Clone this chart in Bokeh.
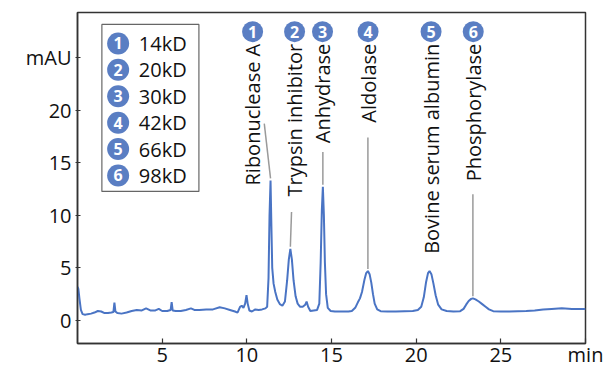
import math

from bokeh.core.properties import value
from bokeh.embed import file_html
from bokeh.models import FixedTicker, Range1d
from bokeh.plotting import figure
from bokeh.resources import INLINE

# --- chromatogram trace: retention time (min) vs absorbance (mAU) ---
time_min = [
    0.00, 0.05, 0.12, 0.20, 0.30, 0.45, 0.60, 0.80, 1.00, 1.20, 1.40, 1.60,
    1.80, 2.00, 2.12, 2.18, 2.24, 2.35, 2.60, 2.90, 3.20, 3.50, 3.80, 4.05,
    4.30, 4.60, 4.80, 5.00, 5.30, 5.50, 5.56, 5.62, 5.80, 6.10, 6.40, 6.70,
    6.90, 7.20, 7.60, 8.00, 8.40, 8.70, 9.00, 9.30, 9.45, 9.60, 9.70, 9.80,
    9.90, 9.98, 10.05, 10.15, 10.30, 10.50, 10.70, 10.90, 11.10, 11.20,
    11.28, 11.34, 11.40, 11.45, 11.50, 11.58, 11.68, 11.80, 11.95, 12.10,
    12.25, 12.38, 12.48, 12.57, 12.66, 12.76, 12.88, 13.00, 13.15, 13.30,
    13.45, 13.53, 13.62, 13.75, 13.95, 14.15, 14.28, 14.36, 14.43, 14.49,
    14.55, 14.61, 14.68, 14.78, 14.95, 15.20, 15.60, 16.00, 16.20, 16.40,
    16.55, 16.68, 16.80, 16.95, 17.05, 17.15, 17.25, 17.35, 17.45, 17.55,
    17.70, 17.90, 18.30, 18.80, 19.30, 19.80, 20.10, 20.30, 20.45, 20.58,
    20.70, 20.79, 20.90, 21.02, 21.15, 21.30, 21.50, 21.80, 22.20, 22.60,
    22.80, 22.95, 23.10, 23.25, 23.35, 23.50, 23.70, 23.90, 24.10, 24.30,
    24.55, 25.00, 25.50, 26.00, 26.50, 27.00, 27.50, 28.00, 28.60, 29.20,
    29.60, 30.00,
]
absorbance_mau = [
    3.20, 3.00, 2.00, 1.00, 0.60, 0.55, 0.60, 0.65, 0.75, 0.90, 0.85, 0.70,
    0.70, 0.75, 0.80, 1.70, 0.85, 0.70, 0.65, 0.75, 0.90, 1.00, 0.95, 1.15,
    0.95, 0.95, 1.10, 0.90, 0.90, 1.00, 1.75, 0.95, 0.90, 0.90, 1.00, 1.15,
    1.00, 1.00, 1.05, 1.05, 1.25, 1.15, 1.00, 0.85, 0.75, 1.30, 1.40, 1.20,
    1.60, 2.40, 1.60, 0.95, 0.85, 1.05, 1.00, 1.05, 1.15, 1.30,
    4.00, 10.00, 13.30, 9.00, 5.00, 3.50, 2.70, 2.00, 1.55, 1.40,
    1.80, 3.80, 5.80, 6.80, 5.80, 3.80, 2.30, 1.60, 1.30, 1.30,
    1.50, 1.80, 1.30, 0.90, 0.95, 1.00, 1.60, 5.50, 10.50, 12.70,
    10.00, 5.50, 2.50, 1.20, 0.90, 0.85, 0.85, 0.85, 0.90, 1.20,
    1.70, 2.10, 2.70, 3.90, 4.50, 4.70, 4.40, 3.60, 2.50, 1.60,
    1.05, 0.88, 0.85, 0.85, 0.88, 0.90, 1.00, 1.30, 2.20, 3.60,
    4.50, 4.70, 4.40, 3.50, 2.40, 1.50, 1.05, 0.90, 0.85, 0.88,
    1.10, 1.50, 1.85, 2.05, 2.10, 2.00, 1.80, 1.55, 1.30, 1.05,
    0.88, 0.85, 0.86, 0.88, 0.90, 0.95, 1.05, 1.10, 1.15, 1.10,
    1.10, 1.10,
]

# --- calibration standards ---
protein_names = ["Ribonuclease A", "Trypsin inhibitor", "Anhydrase",
                 "Aldolase", "Bovine serum albumin", "Phosphorylase"]
protein_kd = [14, 20, 30, 42, 66, 98]
peak_time = [11.40, 12.57, 14.49, 17.15, 20.79, 23.35]
peak_height = [13.3, 6.8, 12.7, 4.7, 4.7, 2.1]

# --- axis ticks ---
x_ticks = [5, 10, 15, 20, 25, 30]
x_tick_labels = ["5", "10", "15", "20", "25", "min"]
y_ticks = [0, 5, 10, 15, 20, 25]
y_tick_labels = ["0", "5", "10", "15", "20", "mAU"]

# --- annotation layout (data units) ---
label_x = [10.34, 12.82, 14.47, 17.16, 20.88, 23.37]
label_top = 26.3
badge_y = 27.45
leader_top_x = [11.03, 12.64, 14.49, 17.15, None, 23.35]
leader_top_y = [18.7, 10.3, 16.0, 17.4, None, 12.0]
legend_left, legend_right = 1.44, 7.17
legend_top, legend_bottom = 28.14, 12.26
legend_badge_x, legend_text_x = 2.40, 3.62
legend_first_row, legend_row_step = 26.33, 2.51

LINE_BLUE = "#4a74c4"
BADGE_BLUE = "#5a7ec3"
INK = "#111111"
FONT = "Open Sans"

p = figure(width=604, height=370, output_backend="svg", toolbar_location=None,
           x_range=Range1d(0, 30), y_range=Range1d(-2.19, 29.27),
           min_border_left=77, min_border_right=19, min_border_top=12,
           min_border_bottom=27)
p.grid.visible = False
p.outline_line_color = "#333333"
p.outline_line_width = 1.5
p.background_fill_color = "white"

for ax, ticks, labels in ((p.xaxis[0], x_ticks, x_tick_labels),
                          (p.yaxis[0], y_ticks, y_tick_labels)):
    ax.ticker = FixedTicker(ticks=ticks)
    ax.major_label_overrides = {t: s for t, s in zip(ticks, labels)}
    ax.minor_tick_line_color = None
    ax.axis_line_color = "#333333"
    ax.axis_line_width = 1.5
    ax.major_tick_line_color = "#333333"
    ax.major_tick_line_width = 1.2
    ax.major_label_text_font = FONT
    ax.major_label_text_font_size = "20px"
    ax.major_label_text_color = INK
p.xaxis.major_tick_in = 5
p.xaxis.major_tick_out = 0
p.xaxis.major_label_standoff = -3
p.yaxis.major_tick_in = 3
p.yaxis.major_tick_out = 2
p.yaxis.major_label_standoff = 4

# trace
p.line(time_min, absorbance_mau, line_color=LINE_BLUE, line_width=2)

# leader lines from the peak apex up to the rotated name
for i in range(len(peak_time)):
    if leader_top_x[i] is None:
        continue
    p.line([leader_top_x[i], peak_time[i]], [leader_top_y[i], peak_height[i] + 0.2],
           line_color="#9a9a9a", line_width=1.5)

# rotated protein names
p.text(x=label_x, y=[label_top] * len(label_x), text=protein_names,
       angle=math.pi / 2, text_align="right", text_baseline="middle",
       text_font=value(FONT), text_font_size="20px", text_color=INK)

# numbered badges above each name
numbers = [str(i + 1) for i in range(len(protein_names))]
p.scatter(label_x, [badge_y] * len(label_x), marker="circle", size=21,
          fill_color=BADGE_BLUE, line_color=None)
p.text(x=label_x, y=[badge_y] * len(label_x), text=numbers,
       text_align="center", text_baseline="middle", text_font=value(FONT),
       text_font_size="16px", text_font_style="bold", text_color="white")

# key box: badge number -> molecular weight
p.quad(left=[legend_left], right=[legend_right], top=[legend_top],
       bottom=[legend_bottom], fill_color="white", line_color="#666666",
       line_width=1.2)
rows_y = [legend_first_row - i * legend_row_step for i in range(len(protein_kd))]
p.scatter([legend_badge_x] * len(rows_y), rows_y, marker="circle", size=22,
          fill_color=BADGE_BLUE, line_color=None)
p.text(x=[legend_badge_x] * len(rows_y), y=rows_y, text=numbers,
       text_align="center", text_baseline="middle", text_font=value(FONT),
       text_font_size="16px", text_font_style="bold", text_color="white")
p.text(x=[legend_text_x] * len(rows_y), y=rows_y,
       text=[f"{kd}kD" for kd in protein_kd], text_align="left",
       text_baseline="middle", text_font=value(FONT), text_font_size="20px",
       text_color=INK)

open("out.html", "w").write(file_html(p, INLINE))
